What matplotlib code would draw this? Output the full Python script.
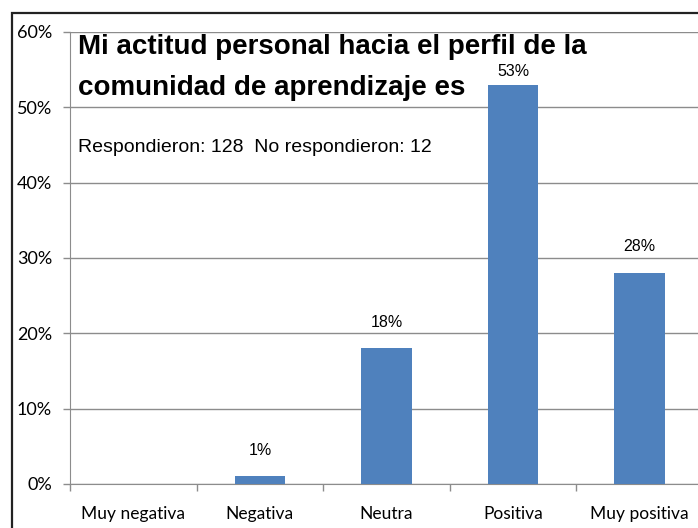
import matplotlib
matplotlib.use("Agg")
import matplotlib.pyplot as plt
from matplotlib.patches import Rectangle
from matplotlib.ticker import PercentFormatter

# ---- data ----
categories = ["Muy negativa", "Negativa", "Neutra", "Positiva", "Muy positiva"]
values = [0, 1, 18, 53, 28]
value_labels = ["", "1%", "18%", "53%", "28%"]
title_text = "Mi actitud personal hacia el perfil de la\ncomunidad de aprendizaje es"
subtitle_text = "Respondieron: 128  No respondieron: 12"

bar_color = "#4F81BD"
grid_color = "#8C8C8C"

fig = plt.figure(figsize=(6.98, 5.28), dpi=100)
ax = fig.add_axes([70 / 698, 1 - 484 / 528, 633 / 698, 452 / 528])

# outer chart frame (cropped at right and bottom)
fig.patches.append(Rectangle((12 / 698, -0.1), 1.2, 1 - 13 / 528 + 0.1,
                             transform=fig.transFigure, fill=False,
                             edgecolor="#222222", lw=1.6, clip_on=False))

x = list(range(len(categories)))
ax.bar(x, values, width=0.4, color=bar_color, zorder=3)
for xi, v, lab in zip(x, values, value_labels):
    if lab:
        # label sits above the bar, pushed down when it would hit the top
        ax.text(xi, min(v + 3.5, 54.7), lab, ha="center", va="center",
                fontsize=11.5, family="Liberation Sans")

ax.set_xlim(-0.5, len(categories) - 0.5)
ax.set_ylim(0, 60)
ax.set_yticks(range(0, 61, 10))
ax.yaxis.set_major_formatter(PercentFormatter(decimals=0))
ax.grid(axis="y", color=grid_color, lw=1.0, zorder=0)
ax.set_axisbelow(True)

# category separators as ticks on x axis
ax.set_xticks([i + 0.5 for i in range(-1, len(categories))], minor=False)
ax.set_xticklabels([])
ax.set_xticks(x, minor=True)
ax.set_xticklabels(categories, minor=True, fontsize=12.5, family="Lato")
ax.tick_params(axis="x", which="major", length=5, color=grid_color, width=1)
ax.tick_params(axis="x", which="minor", length=0, pad=16)
ax.tick_params(axis="y", length=5, color=grid_color, width=1, pad=8,
               labelsize=13)
for t in ax.get_yticklabels():
    t.set_family("Lato")

for side in ["top", "right"]:
    ax.spines[side].set_visible(False)
ax.spines["left"].set_color(grid_color)
ax.spines["bottom"].set_color(grid_color)

line1, line2 = title_text.split("\n")
fig.text(78 / 698, 1 - 47 / 528, line1, ha="left", va="center",
         fontsize=20, fontweight="bold", family="Liberation Sans")
fig.text(78 / 698, 1 - 88 / 528, line2, ha="left", va="center",
         fontsize=20, fontweight="bold", family="Liberation Sans")
fig.text(78 / 698, 1 - 148 / 528, subtitle_text, ha="left", va="center",
         fontsize=14, family="Liberation Sans")

fig.savefig("out.png", dpi=100)
